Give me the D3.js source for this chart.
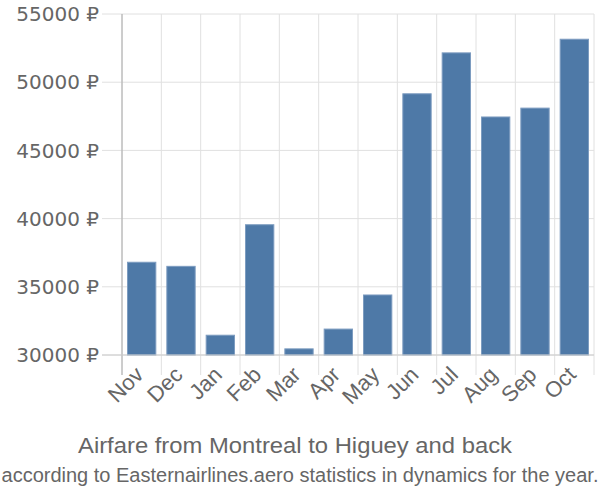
<!DOCTYPE html>
<html>
<head>
<meta charset="utf-8">
<script src="https://cdn.jsdelivr.net/npm/d3@7"></script>
<style>
    body { margin: 0; background: #fff; }
    text { fill: #666; font-family: "Liberation Sans", Arial, sans-serif; }
    .y-label { font-family: "DejaVu Sans", sans-serif; }
</style>
</head>
<body>
<svg id="chart" width="600" height="500"></svg>
<script>
const months = ["Nov", "Dec", "Jan", "Feb", "Mar", "Apr", "May", "Jun", "Jul", "Aug", "Sep", "Oct"];
const prices = [36800, 36500, 31450, 39550, 30450, 31900, 34400, 49150, 52150, 47450, 48100, 53150];
const yTicks = [30000, 35000, 40000, 45000, 50000, 55000];

const cfg = {
    left: 122,
    right: 594,
    top: 14,
    bottom: 355,
    barColor: "#4e79a7",
    gridColor: "#e0e0e0",
};

const svg = d3.select("#chart");

const x = d3.scaleBand()
    .domain(months)
    .range([cfg.left, cfg.right])
    .paddingInner(0.28)
    .paddingOuter(0.14);

const y = d3.scaleLinear()
    .domain([30000, 55000])
    .range([cfg.bottom, cfg.top]);

// horizontal grid + y labels
svg.append("g")
    .selectAll("line")
    .data(yTicks)
    .join("line")
    .attr("x1", cfg.left - 20)
    .attr("x2", cfg.right)
    .attr("y1", d => y(d))
    .attr("y2", d => y(d))
    .attr("stroke", cfg.gridColor)
    .attr("stroke-width", 1);

svg.append("g")
    .selectAll("text")
    .data(yTicks)
    .join("text")
    .attr("class", "y-label")
    .attr("x", cfg.left - 23)
    .attr("y", d => y(d))
    .attr("dy", "0.36em")
    .attr("text-anchor", "end")
    .attr("font-size", 20)
    .text(d => d + " ₽");

// vertical grid at band edges
const edges = months.map(m => x(m) - x.step() * x.paddingInner() / 2);
edges.push(cfg.right);
svg.append("g")
    .selectAll("line")
    .data(edges)
    .join("line")
    .attr("x1", d => d)
    .attr("x2", d => d)
    .attr("y1", cfg.top)
    .attr("y2", cfg.bottom + 20)
    .attr("stroke", cfg.gridColor)
    .attr("stroke-width", 1);

// bars
svg.append("g")
    .selectAll("rect")
    .data(months)
    .join("rect")
    .attr("x", d => x(d))
    .attr("width", x.bandwidth())
    .attr("y", (d, i) => y(prices[i]))
    .attr("height", (d, i) => y(30000) - y(prices[i]))
    .attr("fill", cfg.barColor)
    .attr("stroke", "#7d9cc0")
    .attr("stroke-width", 1);

// axis lines
svg.append("line")
    .attr("x1", cfg.left).attr("x2", cfg.left)
    .attr("y1", cfg.top).attr("y2", cfg.bottom + 20)
    .attr("stroke", "#aaa");
svg.append("line")
    .attr("x1", cfg.left - 20).attr("x2", cfg.right)
    .attr("y1", cfg.bottom).attr("y2", cfg.bottom)
    .attr("stroke", "#ccc");

// x labels
svg.append("g")
    .selectAll("text")
    .data(months)
    .join("text")
    .attr("text-anchor", "end")
    .attr("font-size", 22)
    .attr("transform", d => {
        var cx = x(d) + x.bandwidth() / 2 + 3;
        return "translate(" + cx + "," + (cfg.bottom + 21) + ") rotate(-45)";
    })
    .text(d => d);

// titles
svg.append("text")
    .attr("x", 295)
    .attr("y", 453)
    .attr("text-anchor", "middle")
    .attr("font-size", 22)
    .attr("textLength", 434)
    .attr("lengthAdjust", "spacingAndGlyphs")
    .text("Airfare from Montreal to Higuey and back");
svg.append("text")
    .attr("x", 300)
    .attr("y", 482)
    .attr("text-anchor", "middle")
    .attr("font-size", 20)
    .text("according to Easternairlines.aero statistics in dynamics for the year.");
</script>
</body>
</html>
